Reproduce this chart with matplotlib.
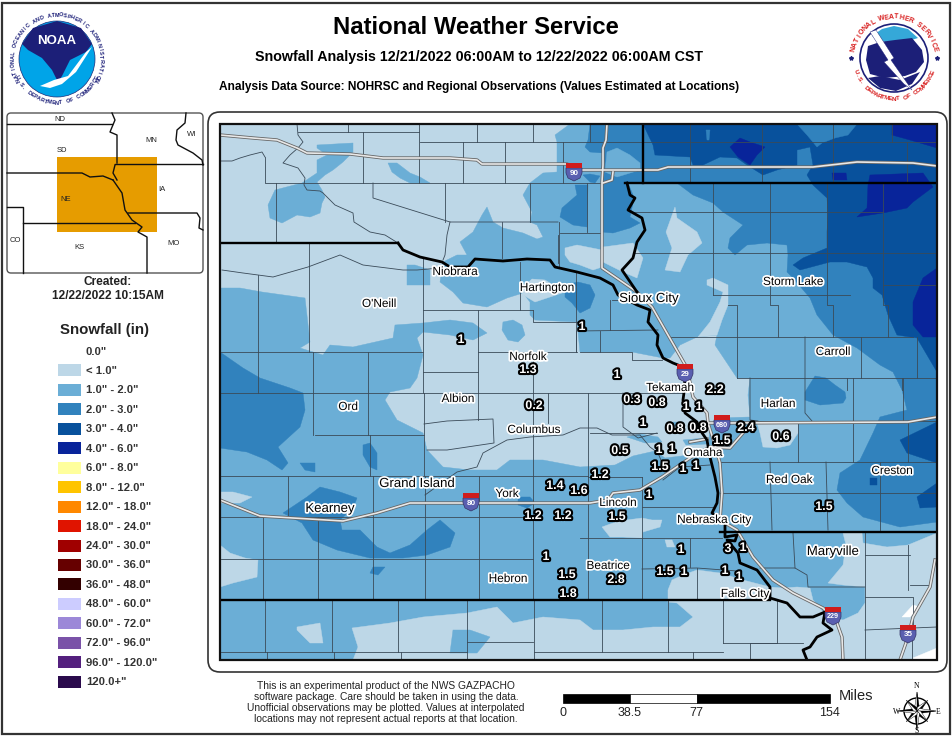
# -*- coding: utf-8 -*-

import numpy as np
import matplotlib
matplotlib.use('Agg')
import matplotlib.pyplot as plt
import matplotlib.patheffects as pe
from matplotlib.patches import Circle, Polygon, Rectangle, FancyBboxPatch

plt.rcParams['font.family'] = ['Liberation Sans', 'DejaVu Sans']

# legend
legend_labels = ['0.0"', '< 1.0"', '1.0" - 2.0"', '2.0" - 3.0"', '3.0" - 4.0"', '4.0" - 6.0"',
                 '6.0" - 8.0"', '8.0" - 12.0"', '12.0" - 18.0"', '18.0" - 24.0"', '24.0" - 30.0"',
                 '30.0" - 36.0"', '36.0" - 48.0"', '48.0" - 60.0"', '60.0" - 72.0"', '72.0" - 96.0"',
                 '96.0" - 120.0"', '120.0+"']
legend_colors = ['#ffffff', '#bdd7e7', '#6baed6', '#3182bd', '#08519c', '#08249a',
                 '#ffff9c', '#ffc400', '#ff8800', '#e01400', '#a00000', '#660000',
                 '#330000', '#ccccff', '#9c88d8', '#7a52a8', '#54207e', '#2a0a4c']

# snowfall areas
snow_1to2 = [
    [(220, 288), (240, 288), (262, 292), (305, 298), (310, 342), (300, 348), (323, 355), (330, 345), (353, 347),
     (393, 338), (395, 325), (423, 323), (450, 320), (473, 323), (487, 333), (473, 340), (450, 335), (423, 332),
     (417, 338), (423, 355), (417, 378), (410, 388), (390, 392), (385, 400), (397, 420), (423, 433), (427, 450),
     (443, 467), (470, 470), (497, 470), (510, 460), (543, 460), (580, 467), (615, 465), (633, 456), (655, 451),
     (665, 458), (690, 455), (708, 450), (710, 425), (717, 418), (750, 417), (748, 395), (750, 378), (737, 378),
     (715, 345), (717, 335), (697, 337), (680, 345), (670, 358), (663, 358), (632, 352), (580, 352), (577, 322),
     (535, 320), (530, 315), (530, 302), (523, 293), (507, 298), (487, 307), (463, 303), (453, 292), (440, 282),
     (443, 262), (457, 255), (467, 255), (460, 242), (473, 232), (482, 215), (487, 207), (493, 222), (503, 228),
     (523, 233), (537, 239), (543, 237), (537, 225), (530, 222), (532, 212), (523, 195), (530, 183), (543, 173),
     (557, 172), (557, 142), (555, 135), (570, 124), (937, 124), (937, 660), (220, 660)],
    [(317, 145), (353, 143), (353, 152), (343, 162), (333, 170), (325, 175), (317, 182), (322, 190), (325, 197),
     (322, 203), (320, 213), (310, 217), (297, 215), (282, 223), (270, 218), (268, 205), (275, 190), (302, 183),
     (317, 173), (317, 160), (327, 155), (317, 148)],
    [(388, 163), (397, 163), (410, 173), (420, 177), (430, 183), (410, 183), (400, 178), (392, 172)],
    [(407, 265), (415, 265), (430, 270), (430, 285), (407, 285), (407, 275)],
    [(503, 322), (513, 320), (522, 325), (525, 335), (518, 342), (508, 340), (502, 330)],
]
snow_under1 = [
    [(565, 248), (577, 245), (587, 247), (602, 250), (602, 267), (593, 270), (580, 265), (570, 262), (565, 255)],
    [(603, 247), (633, 243), (643, 258), (637, 278), (623, 272), (603, 262)],
    [(520, 290), (532, 279), (545, 280), (565, 292), (535, 302), (523, 295)],
    [(675, 207), (677, 218), (697, 232), (702, 243), (688, 255), (680, 272), (665, 270), (672, 248), (666, 232)],
    [(707, 280), (713, 278), (728, 285), (728, 305), (722, 320), (717, 335), (698, 337), (710, 322), (720, 302),
     (723, 292), (707, 285)],
    [(840, 307), (845, 309), (845, 320), (841, 320)],
    [(757, 423), (798, 423), (798, 433), (790, 445), (777, 448), (763, 447), (760, 433)],
    [(602, 527), (613, 523), (627, 520), (642, 518), (652, 520), (662, 520), (660, 527), (643, 532), (642, 538),
     (623, 537), (610, 537)],
    [(665, 540), (672, 540), (675, 547), (667, 547)],
    [(668, 590), (672, 580), (683, 575), (697, 570), (720, 573), (743, 580), (770, 587), (783, 588), (797, 587),
     (810, 588), (813, 600), (823, 612), (833, 618), (843, 620), (858, 613), (865, 603), (865, 587), (843, 585),
     (828, 583), (843, 565), (846, 545), (843, 533), (862, 533), (863, 543), (887, 547), (908, 545), (937, 533),
     (937, 660), (353, 660), (358, 647), (352, 628), (390, 623), (423, 617), (467, 613), (497, 607), (513, 623),
     (543, 617), (580, 620), (593, 630), (623, 630), (653, 627), (680, 627), (693, 617), (677, 603), (668, 602)],
    [(297, 627), (320, 623), (323, 643), (310, 643), (297, 630)],
    [(220, 492), (233, 492), (252, 497), (240, 503), (220, 503)],
    [(220, 545), (230, 553), (245, 558), (258, 560), (257, 577), (233, 583), (220, 587)],
]
snow_1to2_patches = [
    [(453, 630), (470, 630), (490, 637), (477, 653), (450, 653)],
    [(627, 437), (640, 434), (658, 437), (662, 442), (645, 443)],
    [(673, 422), (683, 422), (684, 426), (673, 426)],
    [(683, 440), (705, 438), (707, 444), (686, 445)],
]
snow_2to3 = [
    [(590, 124), (937, 124), (937, 522), (900, 527), (863, 517), (847, 503), (837, 490), (840, 473), (860, 460),
     (873, 433), (880, 417), (907, 410), (902, 390), (893, 372), (880, 365), (857, 348), (833, 335), (817, 315),
     (810, 298), (793, 278), (787, 272), (788, 255), (787, 245), (767, 243), (747, 245), (735, 255), (728, 248),
     (730, 238), (743, 225), (723, 212), (713, 203), (693, 195), (677, 183), (603, 183), (603, 153), (590, 152),
     (585, 147), (588, 140)],
    [(575, 185), (577, 195), (562, 208), (560, 217), (573, 225), (587, 227), (588, 185)],
    [(603, 183), (628, 183), (633, 195), (633, 203), (630, 217), (640, 223), (630, 228), (613, 233), (602, 232)],
    [(583, 175), (590, 174), (600, 176), (595, 183), (590, 182)],
    [(220, 352), (243, 368), (260, 378), (290, 388), (303, 393), (305, 410), (300, 427), (278, 447), (288, 463),
     (282, 470), (267, 460), (247, 452), (220, 448)],
    [(300, 463), (315, 463), (315, 472), (305, 470)],
    [(363, 445), (370, 443), (377, 453), (377, 470), (370, 467), (363, 455)],
    [(283, 513), (307, 497), (320, 487), (340, 492), (357, 498), (353, 508), (340, 520), (342, 530), (360, 530),
     (377, 547), (390, 553), (410, 545), (427, 530), (440, 520), (455, 533), (450, 547), (427, 555), (403, 558),
     (370, 558), (337, 550), (313, 540), (302, 523)],
    [(373, 567), (385, 567), (378, 575), (370, 573)],
    [(518, 497), (530, 497), (535, 503), (527, 508), (518, 505)],
    [(565, 285), (578, 282), (590, 285), (595, 295), (590, 308), (580, 313), (572, 303), (565, 297)],
    [(805, 392), (815, 376), (826, 378), (835, 385), (845, 392), (846, 398), (843, 403), (820, 405), (805, 400)],
]
snow_2to3_top = [
    [(607, 152), (617, 148), (630, 155), (640, 163), (640, 170), (617, 177), (605, 172)],
]
snow_3to4 = [
    [(643, 124), (937, 124), (937, 372), (917, 338), (897, 335), (888, 315), (882, 295), (873, 288), (873, 278),
     (867, 267), (847, 262), (830, 262), (800, 270), (793, 265), (803, 258), (827, 248), (827, 232), (828, 215),
     (827, 198), (813, 185), (807, 175), (813, 165), (810, 147), (797, 150), (797, 165), (777, 170), (763, 175),
     (747, 165), (737, 158), (720, 157), (703, 165), (693, 165), (690, 157), (655, 155), (653, 145)],
    [(937, 422), (900, 440), (907, 453), (937, 463)],
    [(937, 483), (917, 497), (920, 508), (937, 507)],
    [(870, 478), (877, 478), (877, 485), (870, 485)],
]
snow_3to4_holes = [
    [(797, 124), (807, 135), (817, 147), (822, 143), (835, 138), (848, 135), (857, 124)],
    [(706, 130), (710, 130), (709, 140), (707, 140)],
]
snow_4to6 = [
    [(730, 147), (740, 138), (750, 142), (765, 147), (757, 155), (750, 165), (738, 157)],
    [(870, 175), (923, 173), (933, 187), (913, 202), (907, 208), (883, 213), (857, 217), (867, 208), (868, 185)],
    [(892, 124), (892, 135), (910, 140), (937, 148), (937, 124)],
    [(937, 268), (923, 278), (913, 302), (913, 325), (923, 337), (937, 337)],
    [(832, 173), (846, 173), (847, 180), (833, 180)],
]
snow_zero = [
    [(902, 617), (913, 605), (920, 607), (910, 617)],
    [(913, 658), (937, 648), (937, 660), (915, 660)],
]

# county lines
counties = [
    [(348, 124), (348, 132)], [(298, 132), (419, 132)], [(419, 124), (419, 183)], [(363, 132), (363, 183)],
    [(420, 142), (937, 142)], [(477, 124), (477, 142)], [(533, 124), (533, 142)], [(463, 142), (463, 183)],
    [(505, 142), (505, 183)], [(563, 142), (563, 183)], [(265, 157), (265, 183), (603, 183)],
    [(276, 183), (276, 243)], [(373, 183), (373, 198), (450, 222), (558, 222)], [(445, 183), (445, 222)],
    [(502, 222), (502, 258)], [(530, 183), (530, 222)], [(559, 222), (559, 268)],
    [(309, 243), (309, 352)], [(423, 258), (423, 393)], [(258, 275), (258, 352)], [(221, 352), (423, 352)],
    [(423, 310), (533, 310)], [(478, 310), (478, 420)], [(520, 262), (520, 310)], [(533, 310), (533, 322), (577, 322)],
    [(423, 372), (478, 372)], [(478, 352), (577, 352)], [(533, 352), (533, 600)], [(576, 272), (576, 352)],
    [(258, 352), (258, 393)], [(313, 352), (313, 435)], [(368, 352), (368, 435)], [(221, 393), (683, 393)],
    [(315, 435), (424, 435)], [(424, 393), (424, 476)], [(221, 476), (588, 476)], [(288, 476), (288, 517)],
    [(370, 435), (370, 476)], [(373, 476), (373, 600)], [(425, 476), (425, 600)], [(479, 476), (479, 600)],
    [(424, 424), (447, 421), (493, 419), (494, 443), (447, 450), (427, 450)], [(221, 517), (479, 517)],
    [(548, 393), (548, 423)], [(221, 559), (533, 559)], [(263, 517), (263, 600)], [(318, 517), (318, 600)],
    [(588, 393), (588, 600)], [(642, 477), (642, 600)], [(588, 477), (642, 477)], [(580, 538), (722, 538)],
    [(642, 507), (713, 507)], [(690, 538), (690, 567)], [(642, 569), (697, 568), (737, 571)], [(697, 568), (697, 600)],
    [(590, 433), (657, 433)], [(623, 393), (623, 427), (638, 438), (657, 433)], [(479, 517), (533, 517)],
    [(265, 600), (265, 652)], [(332, 600), (332, 652)], [(398, 600), (398, 652)],
    [(467, 600), (467, 660)], [(534, 600), (534, 660)], [(221, 652), (467, 652)], [(267, 652), (267, 660)],
    [(334, 652), (334, 660)], [(401, 652), (401, 660)], [(467, 642), (533, 642)], [(534, 652), (723, 652)],
    [(602, 600), (602, 652)], [(668, 600), (668, 652)], [(723, 600), (723, 643)], [(777, 600), (777, 643)],
    [(750, 643), (803, 643)], [(750, 643), (750, 660)], [(693, 652), (693, 660)],
    [(750, 378), (750, 420), (758, 421)], [(805, 337), (805, 413), (812, 421)], [(798, 421), (798, 462)],
    [(853, 378), (853, 462)], [(903, 378), (903, 421)], [(908, 421), (908, 462)], [(718, 462), (937, 462)],
    [(720, 493), (937, 493)], [(770, 462), (772, 530)], [(826, 462), (828, 530)], [(880, 462), (880, 530)],
    [(793, 533), (795, 568)], [(760, 568), (795, 568), (807, 575), (808, 587), (865, 587)], [(865, 533), (865, 660)],
    [(865, 555), (910, 555)], [(908, 545), (908, 590)], [(865, 597), (913, 597), (913, 630)], [(865, 630), (937, 627)],
    [(910, 585), (930, 585)], [(912, 630), (912, 660)], [(723, 643), (777, 643)],
    [(590, 124), (590, 142)], [(690, 124), (690, 183)],
    [(762, 124), (762, 183)], [(833, 124), (833, 183)], [(907, 142), (907, 183)], [(892, 124), (892, 142)],
    [(713, 183), (713, 295)], [(770, 183), (770, 305), (778, 305), (778, 337)],
    [(827, 183), (827, 305), (833, 305), (833, 337)], [(883, 183), (883, 305), (888, 305), (888, 337)],
    [(633, 212), (883, 212)], [(633, 253), (937, 253)], [(883, 285), (937, 285)], [(713, 295), (850, 295)],
    [(612, 300), (640, 300)], [(610, 300), (610, 330)], [(577, 331), (658, 330)], [(600, 331), (600, 352)],
    [(580, 352), (632, 352), (632, 360), (662, 360)], [(576, 331), (576, 352)], [(728, 305), (737, 305), (737, 337)],
    [(670, 337), (913, 337)], [(737, 337), (737, 378)], [(861, 337), (861, 378)],
    [(917, 337), (917, 378)], [(737, 378), (937, 378)], [(847, 378), (847, 390)], [(902, 378), (902, 390)],
    [(587, 183), (587, 232)], [(560, 233), (602, 233)], [(558, 235), (558, 263)],
    [(750, 421), (937, 421)],
]
thin_rivers = [
    [(297, 124), (298, 135), (303, 142), (298, 148), (290, 155), (283, 163), (298, 168), (305, 178), (304, 185),
     (307, 190), (320, 191), (323, 193), (335, 205), (353, 213), (354, 222), (370, 232), (385, 235), (398, 243)],
    [(221, 161), (232, 161), (240, 158), (250, 155), (262, 152), (265, 157)],
    [(450, 222), (447, 235), (445, 255), (443, 260)],
    [(222, 270), (243, 273), (273, 277), (308, 267), (340, 255), (363, 265), (403, 270), (417, 270), (440, 268)],
    [(425, 495), (457, 472), (477, 467), (483, 453), (507, 440), (530, 437), (563, 435), (580, 428), (597, 428),
     (612, 435), (640, 435), (650, 447), (658, 453), (665, 470)],
    [(663, 480), (680, 467), (710, 465)],
]

# state lines and the Missouri
state_lines = [
    [(220, 243), (398, 243)], [(220, 600), (770, 600)], [(720, 532), (937, 532)], [(625, 183), (937, 183)],
    [(643, 124), (643, 183)],
]
missouri_river = [
    [(398, 243), (403, 250), (420, 257), (442, 262), (450, 267), (468, 267), (475, 259), (503, 261), (527, 259),
     (550, 260), (555, 267), (577, 272), (600, 278), (613, 285), (618, 295), (637, 305), (650, 310), (648, 322),
     (658, 335), (657, 345), (663, 358), (673, 363), (683, 367), (685, 385), (683, 400), (685, 413), (697, 422),
     (700, 430), (707, 440), (710, 457), (715, 477), (718, 493), (717, 503), (712, 513), (725, 523), (725, 537),
     (737, 535), (735, 541), (727, 540), (738, 553), (740, 563), (757, 570), (770, 587), (770, 598), (787, 603),
     (800, 617), (813, 617), (825, 612), (823, 623), (832, 630), (817, 637), (810, 647), (803, 650), (807, 660)],
    [(627, 183), (630, 195), (635, 198), (628, 210), (642, 218), (645, 230), (637, 242), (633, 258), (622, 270),
     (637, 292)],
]

# interstates
roads = [
    [(220, 135), (253, 138), (277, 140), (297, 148), (307, 153), (350, 154), (383, 158), (450, 158), (477, 160),
     (482, 164), (567, 164), (580, 170), (658, 170), (668, 167), (813, 167), (857, 162), (913, 163), (937, 166)],
    [(607, 124), (606, 140), (603, 148), (603, 165), (602, 182), (602, 268), (637, 292), (652, 307), (668, 335),
     (687, 368), (693, 397), (707, 413), (708, 423), (715, 445), (720, 463), (722, 493), (720, 520), (737, 530),
     (753, 557), (773, 580), (793, 593), (823, 608), (837, 623), (842, 637), (843, 660)],
    [(603, 183), (612, 180), (613, 172)],
    [(220, 500), (260, 516), (293, 518), (343, 521), (377, 513), (410, 503), (590, 503), (608, 500), (613, 493),
     (640, 490), (662, 477), (690, 458), (710, 447), (730, 448), (743, 433)],
    [(690, 442), (707, 439)],
    [(708, 423), (727, 423), (908, 422), (937, 417)],
    [(935, 560), (930, 587), (913, 617), (908, 637), (900, 660)],
]
shield_names = ['90', '29', '680', '80', '229', '35']
shield_x = [574, 685, 722, 471, 833, 908]
shield_y = [171, 372, 423, 501, 615, 633]

# places
city_names = ['Niobrara', "O'Neill", 'Hartington', 'Sioux City', 'Storm Lake', 'Carroll', 'Tekamah', 'Harlan',
              'Albion', 'Ord', 'Columbus', 'Norfolk', 'Omaha', 'Grand Island', 'York', 'Kearney', 'Red Oak',
              'Creston', 'Lincoln', 'Nebraska City', 'Maryville', 'Beatrice', 'Hebron', 'Falls City']
city_x = [455, 379, 547, 649, 793, 833, 670, 778, 458, 348, 534, 528, 703, 417, 507, 330, 789, 892, 618, 714,
          833, 608, 508, 745]
city_y = [272, 304, 288, 299, 282, 352, 388, 404, 399, 407, 430, 357, 453, 484, 494, 509, 480, 471, 503, 520,
          552, 566, 579, 594]
city_big = ['Sioux City', 'Kearney', 'Grand Island', 'Maryville']

# observed amounts
obs_text = ['1', '1', '1.3', '1', '2.2', '0.3', '0.8', '1', '1', '0.2', '1', '0.8', '0.8', '2.4', '0.6', '1.5',
            '0.5', '1', '1', '1.5', '1', '1', '1.2', '1.4', '1.6', '1', '1.5', '1.5', '1.2', '1.2', '3', '1', '1',
            '1', '1.5', '2.8', '1.5', '1', '1', '1', '1.8']
obs_x = [461, 582, 528, 617, 715, 632, 657, 686, 699, 534, 643, 675, 698, 746, 781, 722, 620, 659, 672, 660,
         683, 696, 600, 555, 579, 649, 824, 617, 533, 563, 728, 743, 681, 546, 567, 616, 665, 684, 725, 739, 568]
obs_y = [340, 327, 370, 375, 390, 400, 403, 407, 407, 406, 423, 429, 428, 428, 437, 441, 451, 450, 449, 467,
         469, 466, 475, 486, 491, 495, 507, 517, 516, 516, 549, 548, 550, 557, 575, 580, 572, 572, 571, 577, 594]

# inset map
inset_lines = [
    [(7, 124), (112, 124)], [(112, 113), (115, 120), (110, 132), (117, 135), (117, 163)], [(115, 164), (203, 164)],
    [(186, 113), (185, 123), (177, 130), (176, 140), (178, 145), (193, 153), (202, 160), (203, 165)],
    [(7, 173), (82, 173), (90, 177), (103, 176), (113, 180)], [(115, 165), (113, 173), (117, 180)],
    [(113, 180), (122, 193), (125, 210), (132, 220), (142, 227), (138, 232), (147, 237), (147, 273)],
    [(7, 207), (23, 207), (23, 273)], [(23, 223), (135, 223)], [(128, 213), (197, 213), (200, 218), (199, 228),
                                                               (203, 230)],
]
inset_names = ['ND', 'MN', 'WI', 'SD', 'IA', 'NE', 'CO', 'KS', 'MO']
inset_x = [60, 151, 192, 62, 162, 66, 15, 79, 174]
inset_y = [119, 140, 134, 150, 189, 199, 240, 247, 243]

note_lines = ['This is an experimental product of the NWS GAZPACHO',
              'software package. Care should be taken in using the data.',
              'Unofficial observations may be plotted. Values at interpolated',
              'locations may not represent actual reports at that location.']
scale_ticks = [0, 38.5, 77, 154]
scale_labels = ['0', '38.5', '77', '154']

fig = plt.figure(figsize=(9.52, 7.37), dpi=100)
ax = fig.add_axes([0, 0, 1, 1])
ax.set_xlim(0, 952)
ax.set_ylim(737, 0)
ax.axis('off')


def draw_polys(polys, color, zorder, clip):
    for pts in polys:
        p = Polygon(pts, closed=True, fc=color, ec=color, lw=0.3, zorder=zorder)
        ax.add_patch(p)
        p.set_clip_path(clip)


def draw_lines(lines, color, lw, zorder, clip=None):
    for pts in lines:
        xs, ys = zip(*pts)
        ln, = ax.plot(xs, ys, color=color, lw=lw, zorder=zorder, solid_joinstyle='round')
        if clip is not None:
            ln.set_clip_path(clip)


def circle_text(s, cx, cy, r, a0, a1, size, color, flip=False):
    # letters spaced evenly from angle a0 to a1 (degrees, clockwise from the top)
    for ch, a in zip(s, np.linspace(a0, a1, len(s))):
        t = np.radians(a)
        rot = -a + 180 if flip else -a
        ax.text(cx + r * np.sin(t), cy - r * np.cos(t), ch, fontsize=size, color=color, ha='center',
                va='center', rotation=rot, rotation_mode='anchor', fontweight='bold', zorder=8)


# frames
ax.add_patch(Rectangle((2, 3), 948, 731, fc='white', ec='#333333', lw=1.6, zorder=0))
ax.add_patch(FancyBboxPatch((212, 116), 731, 552, boxstyle='round,pad=4,rounding_size=12', fc='white',
                            ec='#333333', lw=1.2, zorder=1))
ax.add_patch(FancyBboxPatch((9, 115), 192, 156, boxstyle='round,pad=2,rounding_size=4', fc='white',
                            ec='#555555', lw=1.0, zorder=1))

# titles
ax.text(476, 27, 'National Weather Service', fontsize=17.2, fontweight='bold', ha='center', va='center')
ax.text(479, 57, 'Snowfall Analysis 12/21/2022 06:00AM to 12/22/2022 06:00AM CST', fontsize=10.3,
        fontweight='bold', ha='center', va='center')
ax.text(479, 87, 'Analysis Data Source: NOHRSC and Regional Observations (Values Estimated at Locations)',
        fontsize=8.6, fontweight='bold', ha='center', va='center')

# NOAA logo
ax.add_patch(Circle((57, 59), 38, fc='#00a4e8', ec='#1a2a78', lw=0.5, zorder=3))
noaa_top = [(22, 44), (33, 28), (57, 21), (81, 28), (92, 44), (86, 52), (70, 60), (62, 76), (58, 82), (52, 70),
            (42, 58), (28, 50)]
ax.add_patch(Polygon(noaa_top, closed=True, fc='#1c1f78', ec='none', zorder=4))
noaa_bird = [(40, 86), (54, 80), (68, 76), (86, 52), (92, 47), (76, 72), (62, 84), (50, 88)]
ax.add_patch(Polygon(noaa_bird, closed=True, fc='white', ec='none', zorder=5))
ax.text(57, 41, 'NOAA', color='white', fontsize=9.5, fontweight='bold', ha='center', va='center', zorder=6)
circle_text('NATIONAL OCEANIC AND ATMOSPHERIC ADMINISTRATION', 57, 59, 44, -118, 118, 4.0, '#1c1f78')
circle_text('U.S. DEPARTMENT OF COMMERCE', 57, 59, 44, 245, 115, 4.0, '#1c1f78', flip=True)

# NWS logo
ax.add_patch(Circle((894, 58), 34, fc='white', ec='#1c1f78', lw=1.2, zorder=3))
nws_fan = [(872, 36), (882, 29), (894, 26), (908, 29), (918, 38), (905, 42), (885, 42)]
ax.add_patch(Polygon(nws_fan, closed=True, fc='#35a8d8', ec='none', zorder=4))
nws_cloud = [(866, 60), (868, 46), (880, 42), (895, 40), (912, 38), (922, 50), (924, 62), (916, 72), (905, 76),
             (885, 78), (870, 74)]
ax.add_patch(Polygon(nws_cloud, closed=True, fc='#1c1f78', ec='none', zorder=4))
nws_water = [(868, 78), (880, 76), (900, 80), (920, 72), (912, 84), (896, 91), (880, 88)]
ax.add_patch(Polygon(nws_water, closed=True, fc='#1c1f78', ec='none', zorder=4))
nws_bolt = [(870, 32), (876, 30), (894, 58), (891, 60), (912, 90), (904, 84), (884, 62), (888, 60)]
ax.add_patch(Polygon(nws_bolt, closed=True, fc='white', ec='#1c1f78', lw=0.3, zorder=5))
circle_text('NATIONAL WEATHER SERVICE', 894, 58, 41, -78, 78, 5.0, '#d81e1e')
circle_text('U.S. DEPARTMENT OF COMMERCE', 894, 58, 41, 250, 110, 4.6, '#d81e1e', flip=True)
ax.plot([851, 937], [58, 58], ls='none', marker='*', ms=3, color='#1c1f78', zorder=6)

# inset
ax.add_patch(Rectangle((57, 157), 100, 75, fc='#e69c00', ec='none', zorder=2))
draw_lines(inset_lines, '#111111', 1.0, 3)
for name, x, y in zip(inset_names, inset_x, inset_y):
    ax.text(x, y, name, fontsize=5.5, color='#222222', ha='center', va='center', zorder=4)
ax.text(108, 282, 'Created:', fontsize=8.6, fontweight='bold', color='#222222', ha='center', va='center')
ax.text(108, 296, '12/22/2022 10:15AM', fontsize=8.6, fontweight='bold', color='#222222', ha='center', va='center')

# legend
ax.text(105, 330, 'Snowfall (in)', fontsize=10.8, fontweight='bold', color='#222222', ha='center', va='center')
for i, (lab, col) in enumerate(zip(legend_labels, legend_colors)):
    y = 351 + i * 19.45
    if i > 0:
        ax.add_patch(Rectangle((58, y - 6), 23, 12, fc=col, ec='none', zorder=2))
    ax.text(86, y + 0.5, lab, fontsize=8.1, fontweight='bold', color='#333333', ha='left', va='center')

# map
map_clip = Rectangle((220, 124), 717, 536, transform=ax.transData)
ax.add_patch(Rectangle((220, 124), 717, 536, fc=legend_colors[1], ec='none', zorder=2))
draw_polys(snow_1to2, legend_colors[2], 2.1, map_clip)
draw_polys(snow_under1, legend_colors[1], 2.2, map_clip)
draw_polys(snow_1to2_patches, legend_colors[2], 2.3, map_clip)
draw_polys(snow_2to3, legend_colors[3], 2.4, map_clip)
draw_polys(snow_2to3_top, legend_colors[2], 2.5, map_clip)
draw_polys(snow_3to4, legend_colors[4], 2.6, map_clip)
draw_polys(snow_3to4_holes, legend_colors[3], 2.7, map_clip)
draw_polys(snow_4to6, legend_colors[5], 2.8, map_clip)
draw_polys(snow_zero, 'white', 2.9, map_clip)

draw_lines(counties, '#3a4a58', 0.6, 3, map_clip)
draw_lines(thin_rivers, '#3a4a58', 0.6, 3.1, map_clip)
draw_lines(roads, '#666666', 2.4, 3.2, map_clip)
draw_lines(roads, '#e8e8e8', 1.2, 3.3, map_clip)
draw_lines(state_lines, 'black', 1.7, 3.4, map_clip)
draw_lines(missouri_river, 'black', 2.0, 3.5, map_clip)
ax.add_patch(Rectangle((220, 124), 717, 536, fc='none', ec='#111111', lw=1.6, zorder=3.6))

# interstate shields
for name, x, y in zip(shield_names, shield_x, shield_y):
    body = [(x - 8, y - 3), (x + 8, y - 3), (x + 8, y + 2), (x + 6, y + 7), (x, y + 10), (x - 6, y + 7), (x - 8, y + 2)]
    ax.add_patch(Polygon(body, closed=True, fc='#5a5fb0', ec='#333366', lw=0.5, zorder=5))
    ax.add_patch(Rectangle((x - 8, y - 8), 16, 5, fc='#d01c1c', ec='none', zorder=5.1))
    ax.text(x, y + 2, name, color='white', fontsize=5.2 if len(name) > 2 else 5.8, fontweight='bold',
            ha='center', va='center', zorder=5.2)

# city names
for name, x, y in zip(city_names, city_x, city_y):
    ax.text(x, y, name, fontsize=9.5 if name in city_big else 8.5, color='black', ha='center', va='center', zorder=6,
            path_effects=[pe.withStroke(linewidth=2.5, foreground='white')])

# observed amounts
for val, x, y in zip(obs_text, obs_x, obs_y):
    ax.text(x, y, val, fontsize=9, fontweight='bold', color='white', ha='center', va='center', zorder=7,
            path_effects=[pe.withStroke(linewidth=3, foreground='black')])

# note under the map
for i, line in enumerate(note_lines):
    ax.text(386, 686 + i * 11, line, fontsize=7.4, color='#222222', ha='center', va='center')

# scale bar
scale_px = 267 / 154.0
bar_x = [563 + t * scale_px for t in scale_ticks]
ax.add_patch(Rectangle((bar_x[0], 694), bar_x[1] - bar_x[0], 9, fc='black', ec='black', lw=0.5))
ax.add_patch(Rectangle((bar_x[1], 694), bar_x[2] - bar_x[1], 9, fc='white', ec='black', lw=0.5))
ax.add_patch(Rectangle((bar_x[2], 694), bar_x[3] - bar_x[2], 9, fc='black', ec='black', lw=0.5))
for x, lab in zip(bar_x, scale_labels):
    ax.text(x, 713, lab, fontsize=9, color='#222222', ha='center', va='center')
ax.text(856, 696, 'Miles', fontsize=10.5, color='#222222', ha='center', va='center')

# compass
cx, cy = 917, 711
ax.add_patch(Circle((cx, cy), 13, fc='none', ec='black', lw=1.0))
for a in np.arange(0, 360, 45):
    r = 19 if a % 90 == 0 else 15
    t = np.radians(a)
    tip = (cx + r * np.sin(t), cy - r * np.cos(t))
    side1 = (cx + 3.5 * np.sin(t + 0.8), cy - 3.5 * np.cos(t + 0.8))
    side2 = (cx + 3.5 * np.sin(t - 0.8), cy - 3.5 * np.cos(t - 0.8))
    ax.add_patch(Polygon([(cx, cy), side1, tip], closed=True, fc='black', ec='black', lw=0.3))
    ax.add_patch(Polygon([(cx, cy), side2, tip], closed=True, fc='white', ec='black', lw=0.3))
ax.text(cx, 686, 'N', fontsize=5.5, family='Liberation Serif', ha='center', va='center')
ax.text(cx, 731, 'S', fontsize=5.5, family='Liberation Serif', ha='center', va='center')
ax.text(897, 712, 'W', fontsize=5.5, family='Liberation Serif', ha='center', va='center')
ax.text(938, 712, 'E', fontsize=5.5, family='Liberation Serif', ha='center', va='center')

plt.savefig('out.png', dpi=100)
